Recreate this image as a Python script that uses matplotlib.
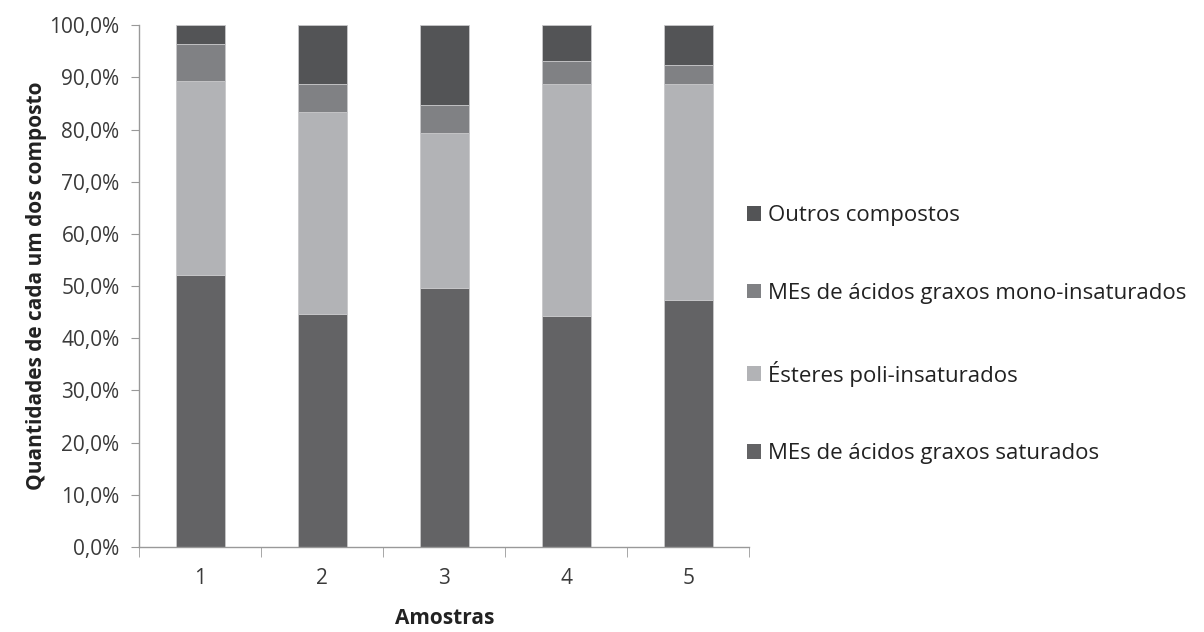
import numpy as np
import matplotlib
matplotlib.use("Agg")
import matplotlib.pyplot as plt
from matplotlib.patches import Patch

plt.rcParams['font.family'] = ['Open Sans', 'DejaVu Sans']

# Composition of each sample (% of total)
amostras = ['1', '2', '3', '4', '5']
saturados = [52.2, 44.6, 49.6, 44.2, 47.3]
poli_insaturados = [37.2, 38.7, 29.7, 44.5, 41.4]
mono_insaturados = [7.1, 5.4, 5.4, 4.4, 3.7]
outros = [3.5, 11.3, 15.3, 6.9, 7.6]

series = [
    ('MEs de ácidos graxos saturados', saturados, '#636365'),
    ('Ésteres poli-insaturados', poli_insaturados, '#b2b3b6'),
    ('MEs de ácidos graxos mono-insaturados', mono_insaturados, '#808184'),
    ('Outros compostos', outros, '#535456'),
]

fig = plt.figure(figsize=(12.04, 6.32), dpi=100)
ax = fig.add_axes([0.1155, 0.1345, 0.507, 0.8255])

x = np.arange(len(amostras))
bottom = np.zeros(len(amostras))
for label, vals, color in series:
    ax.bar(x, vals, width=0.4, bottom=bottom, color=color,
           edgecolor='#c8c8ca', linewidth=0.6, label=label)
    bottom += np.array(vals)

ax.set_xlim(-0.5, len(amostras) - 0.5)
ax.set_ylim(0, 100)
ax.set_yticks(np.arange(0, 101, 10))
ax.set_yticklabels([f'{v},0%' for v in range(0, 101, 10)])
ax.set_xticks(x)
ax.set_xticklabels(amostras)
ax.set_xticks(np.arange(-0.5, len(amostras), 1.0), minor=True)

for s in ['top', 'right']:
    ax.spines[s].set_visible(False)
for s in ['left', 'bottom']:
    ax.spines[s].set_color('#999999')
    ax.spines[s].set_linewidth(1.0)

ax.tick_params(axis='y', length=6, color='#999999', labelsize=15,
               labelcolor='#3a3a3a', pad=8)
ax.tick_params(axis='x', which='major', length=0, labelsize=15,
               labelcolor='#3a3a3a', pad=15)
ax.tick_params(axis='x', which='minor', length=7, color='#999999')

ax.set_xlabel('Amostras', fontsize=15, fontweight='bold', color='#222222',
              labelpad=14)
ax.set_ylabel('Quantidades de cada um dos composto', fontsize=15,
              fontweight='bold', color='#222222', labelpad=2)

handles = [Patch(facecolor=c, edgecolor='none') for _, _, c in series][::-1]
labels = [l for l, _, _ in series][::-1]
fig.legend(handles, labels, loc='upper left', bbox_to_anchor=(0.6037, 0.707),
           frameon=False, fontsize=16, labelspacing=2.55,
           handlelength=0.63, handleheight=0.63, handletextpad=0.3,
           labelcolor='#222222')

fig.savefig('out.png', dpi=100)
